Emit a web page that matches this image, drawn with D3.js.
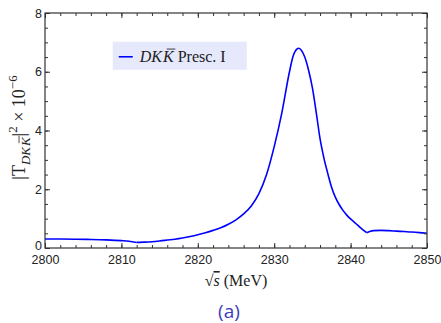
<!DOCTYPE html>
<html>
<head>
  <meta charset="utf-8">
  <title>DKKbar amplitude</title>
  <script src="https://d3js.org/d3.v7.min.js"></script>
  <style>
    body { margin: 0; background: #fff; }
    .tick-label { font-family: "Liberation Sans", Arial, sans-serif; font-size: 12.5px; fill: #222; }
    .serif { font-family: "Liberation Serif", "Times New Roman", serif; fill: #222; }
  </style>
</head>
<body>
  <svg width="441" height="323"></svg>
  <script>
    // sqrt(s) in MeV, |T|^2 x 10^-6
    var sqrtS = [2800, 2802, 2804, 2806, 2808, 2810, 2811, 2812,
                 2813, 2814, 2815, 2816, 2817, 2818, 2819, 2820, 2821, 2822, 2823, 2824,
                 2825, 2826, 2827, 2828, 2829, 2830, 2831, 2832, 2832.5, 2833, 2833.2,
                 2833.5, 2834, 2834.5, 2835, 2835.5, 2836, 2836.5, 2837, 2837.5, 2838,
                 2838.5, 2839, 2839.5, 2840, 2840.5, 2841, 2841.5, 2842.1,
                 2842.5, 2843, 2844, 2845, 2846, 2847, 2848, 2849, 2850];
    var tSq = [0.305, 0.305, 0.30, 0.29, 0.275, 0.25, 0.23, 0.19,
               0.20, 0.215, 0.24, 0.27, 0.30, 0.34, 0.39, 0.45, 0.52, 0.60, 0.69, 0.81,
               0.96, 1.16, 1.43, 1.85, 2.5, 3.45, 4.6, 6.0, 6.55, 6.78, 6.80,
               6.75, 6.5, 6.05, 5.45, 4.62, 3.72, 3.07, 2.55, 2.08, 1.73,
               1.48, 1.28, 1.12, 0.99, 0.875, 0.76, 0.645, 0.52,
               0.56, 0.59, 0.60, 0.59, 0.575, 0.56, 0.545, 0.525, 0.50];
    // threshold cusps where the curve is not smooth
    var cusps = [2812, 2842.1];
    var xTicks = [2800, 2810, 2820, 2830, 2840, 2850];
    var yTicks = [0, 2, 4, 6, 8];

    var data = sqrtS.map(function(s, i) { return {s: s, v: tSq[i]}; });

    var margin = {top: 13, right: 14, bottom: 75, left: 45},
        width = 441 - margin.left - margin.right,
        height = 323 - margin.top - margin.bottom;

    var x = d3.scaleLinear().domain([2800, 2850]).range([0, width]);
    var y = d3.scaleLinear().domain([0, 8]).range([height, 0]);

    var svg = d3.select("svg")
      .append("g")
        .attr("transform", "translate(" + margin.left + "," + margin.top + ")");

    // curve, split at cusps so each piece is smooth
    var line = d3.line()
        .x(function(d) { return x(d.s); })
        .y(function(d) { return y(d.v); })
        .curve(d3.curveMonotoneX);
    var bounds = [2800].concat(cusps).concat([2850]);
    for (var k = 0; k < bounds.length - 1; k++) {
      var seg = data.filter(function(d) { return d.s >= bounds[k] && d.s <= bounds[k + 1]; });
      svg.append("path")
          .datum(seg)
          .attr("fill", "none")
          .attr("stroke", "#0000ff")
          .attr("stroke-width", 1.6)
          .attr("d", line);
    }

    // frame with inward ticks on all sides
    var frameColor = "#333";
    function styleAxis(g) {
      g.select(".domain").remove();
      g.selectAll(".tick line").attr("stroke", frameColor);
    }
    var xMinor = d3.range(2800, 2851, 2);
    var yMinor = d3.range(0, 8.01, 0.5);

    svg.append("g").attr("transform", "translate(0," + height + ")")
      .call(d3.axisBottom(x).tickValues(xMinor).tickSize(-3).tickFormat("")).call(styleAxis);
    svg.append("g").attr("transform", "translate(0," + height + ")")
      .call(d3.axisBottom(x).tickValues(xTicks).tickSize(-5).tickPadding(7).tickFormat(d3.format("d")))
      .call(styleAxis)
      .selectAll("text").attr("class", "tick-label");
    svg.append("g")
      .call(d3.axisTop(x).tickValues(xMinor).tickSize(-3).tickFormat("")).call(styleAxis);
    svg.append("g")
      .call(d3.axisTop(x).tickValues(xTicks).tickSize(-5).tickFormat("")).call(styleAxis);

    svg.append("g")
      .call(d3.axisLeft(y).tickValues(yMinor).tickSize(-3).tickFormat("")).call(styleAxis);
    svg.append("g")
      .call(d3.axisLeft(y).tickValues(yTicks).tickSize(-5).tickPadding(3).tickFormat(d3.format("d")))
      .call(styleAxis)
      .selectAll("text").attr("class", "tick-label")
      // the 0 sits just above the 2800 label
      .attr("dy", function(d) { return d === 0 ? "0.1em" : "0.32em"; });
    svg.append("g").attr("transform", "translate(" + width + ",0)")
      .call(d3.axisRight(y).tickValues(yMinor).tickSize(-3).tickFormat("")).call(styleAxis);
    svg.append("g").attr("transform", "translate(" + width + ",0)")
      .call(d3.axisRight(y).tickValues(yTicks).tickSize(-5).tickFormat("")).call(styleAxis);

    svg.append("rect")
        .attr("width", width).attr("height", height)
        .attr("fill", "none").attr("stroke", frameColor).attr("stroke-width", 1.2);

    // put a bar over an italic K tspan, measured after layout
    function barOver(parent, tspan, size) {
      var b = tspan.node().getBBox();
      var top = b.y + 0.08 * size;
      parent.append("line")
          .attr("x1", b.x + 0.3 * size).attr("x2", b.x + b.width + 0.02 * size)
          .attr("y1", top).attr("y2", top)
          .attr("stroke", "#222").attr("stroke-width", Math.max(0.8, size / 18));
    }

    // legend
    var leg = svg.append("g").attr("transform", "translate(" + (x(2809) - 1) + "," + (y(7.02)) + ")");
    leg.append("rect").attr("width", 134).attr("height", 28).attr("fill", "#e6e8fb");
    leg.append("line").attr("x1", 6).attr("x2", 20).attr("y1", 15).attr("y2", 15)
        .attr("stroke", "#0000ff").attr("stroke-width", 1.6);
    var lt = leg.append("text").attr("class", "serif").attr("x", 27).attr("y", 20).attr("font-size", 16);
    lt.append("tspan").attr("font-style", "italic").text("DK");
    var lk = lt.append("tspan").attr("font-style", "italic").attr("dx", 1).text("K");
    lt.append("tspan").text(" Presc. I");
    barOver(leg, lk, 16);

    // y label
    var yg = svg.append("g")
        .attr("transform", "translate(-20," + (height / 2 - 3) + ") rotate(-90)");
    var yl = yg.append("text").attr("class", "serif")
        .attr("text-anchor", "middle").attr("font-size", 18);
    yl.append("tspan").text("|T");
    yl.append("tspan").attr("font-style", "italic").attr("font-size", 13).attr("dy", 5).text("DK");
    var yk = yl.append("tspan").attr("font-style", "italic").attr("font-size", 13).attr("dx", 1).text("K");
    yl.append("tspan").attr("dy", -5).attr("dx", 1).text("|");
    yl.append("tspan").attr("font-size", 13).attr("dy", -8).text("2");
    yl.append("tspan").attr("dy", 8).text(" \u00d7 10");
    yl.append("tspan").attr("font-size", 13).attr("dy", -8).text("\u22126");
    barOver(yg, yk, 13);

    // x label
    var xl = svg.append("text").attr("class", "serif")
        .attr("x", width / 2).attr("y", height + 38)
        .attr("text-anchor", "middle").attr("font-size", 16);
    xl.append("tspan").text("\u221a");
    xl.append("tspan").attr("font-style", "italic").attr("text-decoration", "overline").text("s");
    xl.append("tspan").text(" (MeV)");

    // panel tag
    svg.append("text")
        .attr("x", width / 2 - 7).attr("y", height + 70)
        .attr("text-anchor", "middle")
        .attr("font-family", "'Open Sans', 'Noto Sans', sans-serif")
        .attr("font-size", 19)
        .attr("fill", "#3c3cb8")
        .text("(a)");
  </script>
</body>
</html>
